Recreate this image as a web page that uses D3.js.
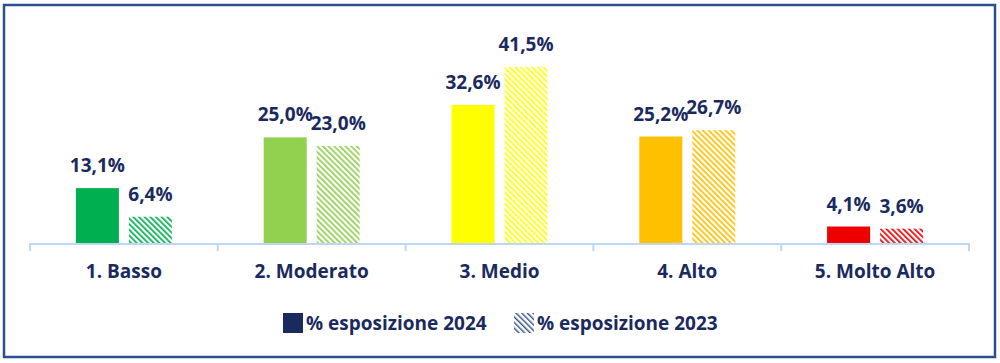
<!DOCTYPE html>
<html>
<head>
<meta charset="utf-8">
<script src="https://cdn.jsdelivr.net/npm/d3@7"></script>
<style>
  body { margin: 0; background: #fff; }
  svg { display: block; font-family: "Open Sans", sans-serif; }
</style>
</head>
<body>
<svg width="1000" height="363"></svg>
<script>
var categories = ["1. Basso", "2. Moderato", "3. Medio", "4. Alto", "5. Molto Alto"];
var values2024 = [13.1, 25.0, 32.6, 25.2, 4.1];
var values2023 = [6.4, 23.0, 41.5, 26.7, 3.6];
var colors = ["#00b050", "#92d050", "#ffff00", "#ffc000", "#ee0000"];
var seriesNames = ["% esposizione 2024", "% esposizione 2023"];

var svg = d3.select("svg");
var navy = "#1b2a5e";

// frame
svg.append("rect")
    .attr("x", 4).attr("y", 5).attr("width", 991).attr("height", 352)
    .attr("fill", "none").attr("stroke", "#2a4f8f").attr("stroke-width", 2.5);

var margin = { left: 30, right: 31, baseline: 244 };

var x = d3.scaleBand()
    .domain(categories)
    .range([margin.left, 1000 - margin.right]);

var y = d3.scaleLinear()
    .domain([0, 41.5])
    .range([margin.baseline, 67]);

var defs = svg.append("defs");
function hatch(id, color, w) {
    var p = defs.append("pattern")
        .attr("id", id)
        .attr("patternUnits", "userSpaceOnUse")
        .attr("width", 4).attr("height", 4)
        .attr("patternTransform", "rotate(-45)");
    p.append("rect").attr("width", 4).attr("height", 4).attr("fill", "#fff");
    p.append("rect").attr("x", 0).attr("width", w).attr("height", 4).attr("fill", color);
}
colors.forEach(function (c, i) { hatch("h" + i, c, 1.7); });
hatch("hl", "#3a5a8c", 1.5);

var barW = 43, gap = 10;

var g = svg.append("g");

categories.forEach(function (c, i) {
    var cx = x(c) + x.bandwidth() / 2;
    var x1 = cx - gap / 2 - barW, x2 = cx + gap / 2;
    g.append("rect")
        .attr("x", x1).attr("y", y(values2024[i]))
        .attr("width", barW).attr("height", y(0) - y(values2024[i]))
        .attr("fill", colors[i]);
    g.append("rect")
        .attr("x", x2).attr("y", y(values2023[i]))
        .attr("width", barW).attr("height", y(0) - y(values2023[i]))
        .attr("fill", "url(#h" + i + ")");
    [[x1, values2024[i]], [x2, values2023[i]]].forEach(function (d) {
        g.append("text")
            .attr("x", d[0] + barW / 2)
            .attr("y", y(d[1]) - 16)
            .attr("text-anchor", "middle")
            .attr("font-size", 19).attr("font-weight", "bold")
            .attr("fill", navy)
            .text(d3.format(".1f")(d[1]).replace(".", ",") + "%");
    });
});

// axis
var axis = svg.append("g")
    .attr("transform", "translate(0," + margin.baseline + ")")
    .call(d3.axisBottom(x).tickSize(0).tickPadding(21));
axis.select(".domain").attr("stroke", "#bdd7f5").attr("stroke-width", 2)
    .attr("d", "M" + x.range()[0] + ",7V0H" + x.range()[1] + "V7");
axis.selectAll(".tick text")
    .attr("font-size", 19).attr("font-weight", "bold")
    .attr("fill", navy).attr("font-family", "Open Sans, sans-serif");
categories.slice(1).forEach(function (c) {
    axis.append("line")
        .attr("x1", x(c)).attr("x2", x(c)).attr("y1", 0).attr("y2", 7)
        .attr("stroke", "#bdd7f5").attr("stroke-width", 2);
});

// legend
var legend = svg.append("g").attr("transform", "translate(283,313)");
var legendItems = [
    { name: seriesNames[0], fill: navy, x: 0 },
    { name: seriesNames[1], fill: "url(#hl)", x: 231 }
];
legendItems.forEach(function (d) {
    legend.append("rect").attr("x", d.x).attr("y", 0)
        .attr("width", 20).attr("height", 20).attr("fill", d.fill);
    legend.append("text").attr("x", d.x + 23).attr("y", 17)
        .attr("font-size", 19).attr("font-weight", "bold").attr("fill", navy)
        .text(d.name);
});
</script>
</body>
</html>
